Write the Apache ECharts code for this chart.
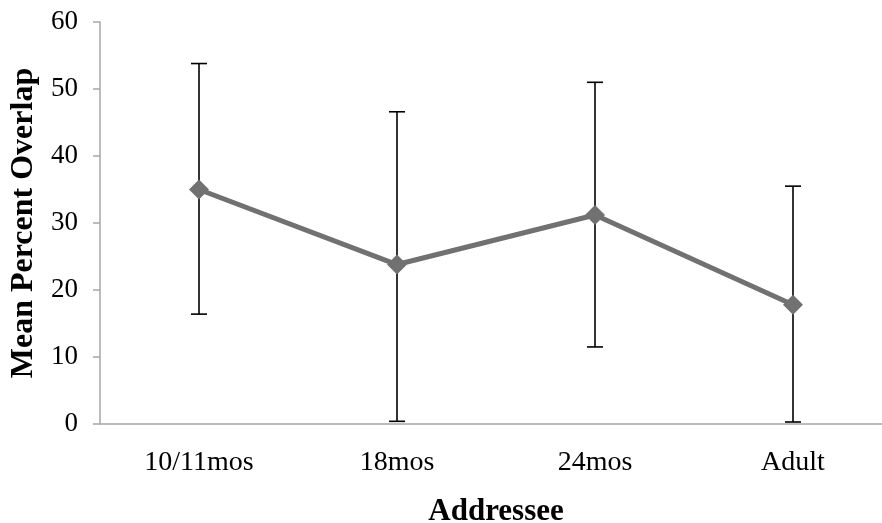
<!DOCTYPE html>
<html>
<head>
<meta charset="utf-8">
<script src="https://cdn.jsdelivr.net/npm/echarts@6/dist/echarts.min.js"></script>
<style>
  html, body { margin: 0; padding: 0; background: #fff; }
  #chart { width: 882px; height: 523px; }
</style>
</head>
<body>
<div id="chart"></div>
<script>
const categories = ['10/11mos', '18mos', '24mos', 'Adult']
const meanOverlap = [35.0, 23.8, 31.2, 17.8]
const upperBound = [53.8, 46.6, 51.0, 35.5]
const lowerBound = [16.4, 0.4, 11.5, 0.3]
const yTicks = { min: 0, max: 60, interval: 10 }

const chart = echarts.init(document.getElementById('chart'))
const serif = '"Liberation Serif", "DejaVu Serif", serif'
const axisGray = '#a6a6a6'

chart.setOption({
  animation: false,
  grid: { left: 100, top: 22, bottom: 99, width: 792, containLabel: false, outerBoundsMode: 'none' },
  xAxis: {
    type: 'category',
    data: categories,
    name: 'Addressee',
    nameLocation: 'middle',
    nameGap: 72,
    nameTextStyle: { fontFamily: serif, fontSize: 31, fontWeight: 'bold', color: '#000' },
    axisLine: { lineStyle: { color: axisGray, width: 1.5 } },
    axisTick: { length: 8, lineStyle: { color: axisGray, width: 1.5 } },
    axisLabel: { fontFamily: serif, fontSize: 28, color: '#000', margin: 25 },
  },
  yAxis: {
    type: 'value',
    min: yTicks.min,
    max: yTicks.max,
    interval: yTicks.interval,
    name: 'Mean Percent Overlap',
    nameLocation: 'middle',
    nameGap: 56,
    nameTextStyle: { fontFamily: serif, fontSize: 32, fontWeight: 'bold', color: '#000' },
    axisLine: { show: true, lineStyle: { color: axisGray, width: 1.5 } },
    axisTick: { show: true, length: 7, lineStyle: { color: axisGray, width: 1.5 } },
    splitLine: { show: false },
    axisLabel: { fontFamily: serif, fontSize: 27, color: '#000', margin: 22 },
  },
  series: [
    {
      type: 'custom',
      data: categories.map((c, i) => [i, lowerBound[i], upperBound[i]]),
      renderItem: (params, api) => {
        const lo = api.coord([api.value(0), api.value(1)])
        const hi = api.coord([api.value(0), api.value(2)])
        const half = 8
        const style = { stroke: '#000', lineWidth: 1.6 }
        return {
          type: 'group',
          children: [
            { type: 'line', shape: { x1: lo[0], y1: lo[1], x2: hi[0], y2: hi[1] }, style },
            { type: 'line', shape: { x1: hi[0] - half, y1: hi[1], x2: hi[0] + half, y2: hi[1] }, style },
            { type: 'line', shape: { x1: lo[0] - half, y1: lo[1], x2: lo[0] + half, y2: lo[1] }, style },
          ],
        }
      },
      z: 1,
    },
    {
      type: 'line',
      data: meanOverlap,
      symbol: 'diamond',
      symbolSize: 20,
      lineStyle: { color: '#717171', width: 5 },
      itemStyle: { color: '#717171' },
      z: 2,
    },
  ],
})
</script>
</body>
</html>
